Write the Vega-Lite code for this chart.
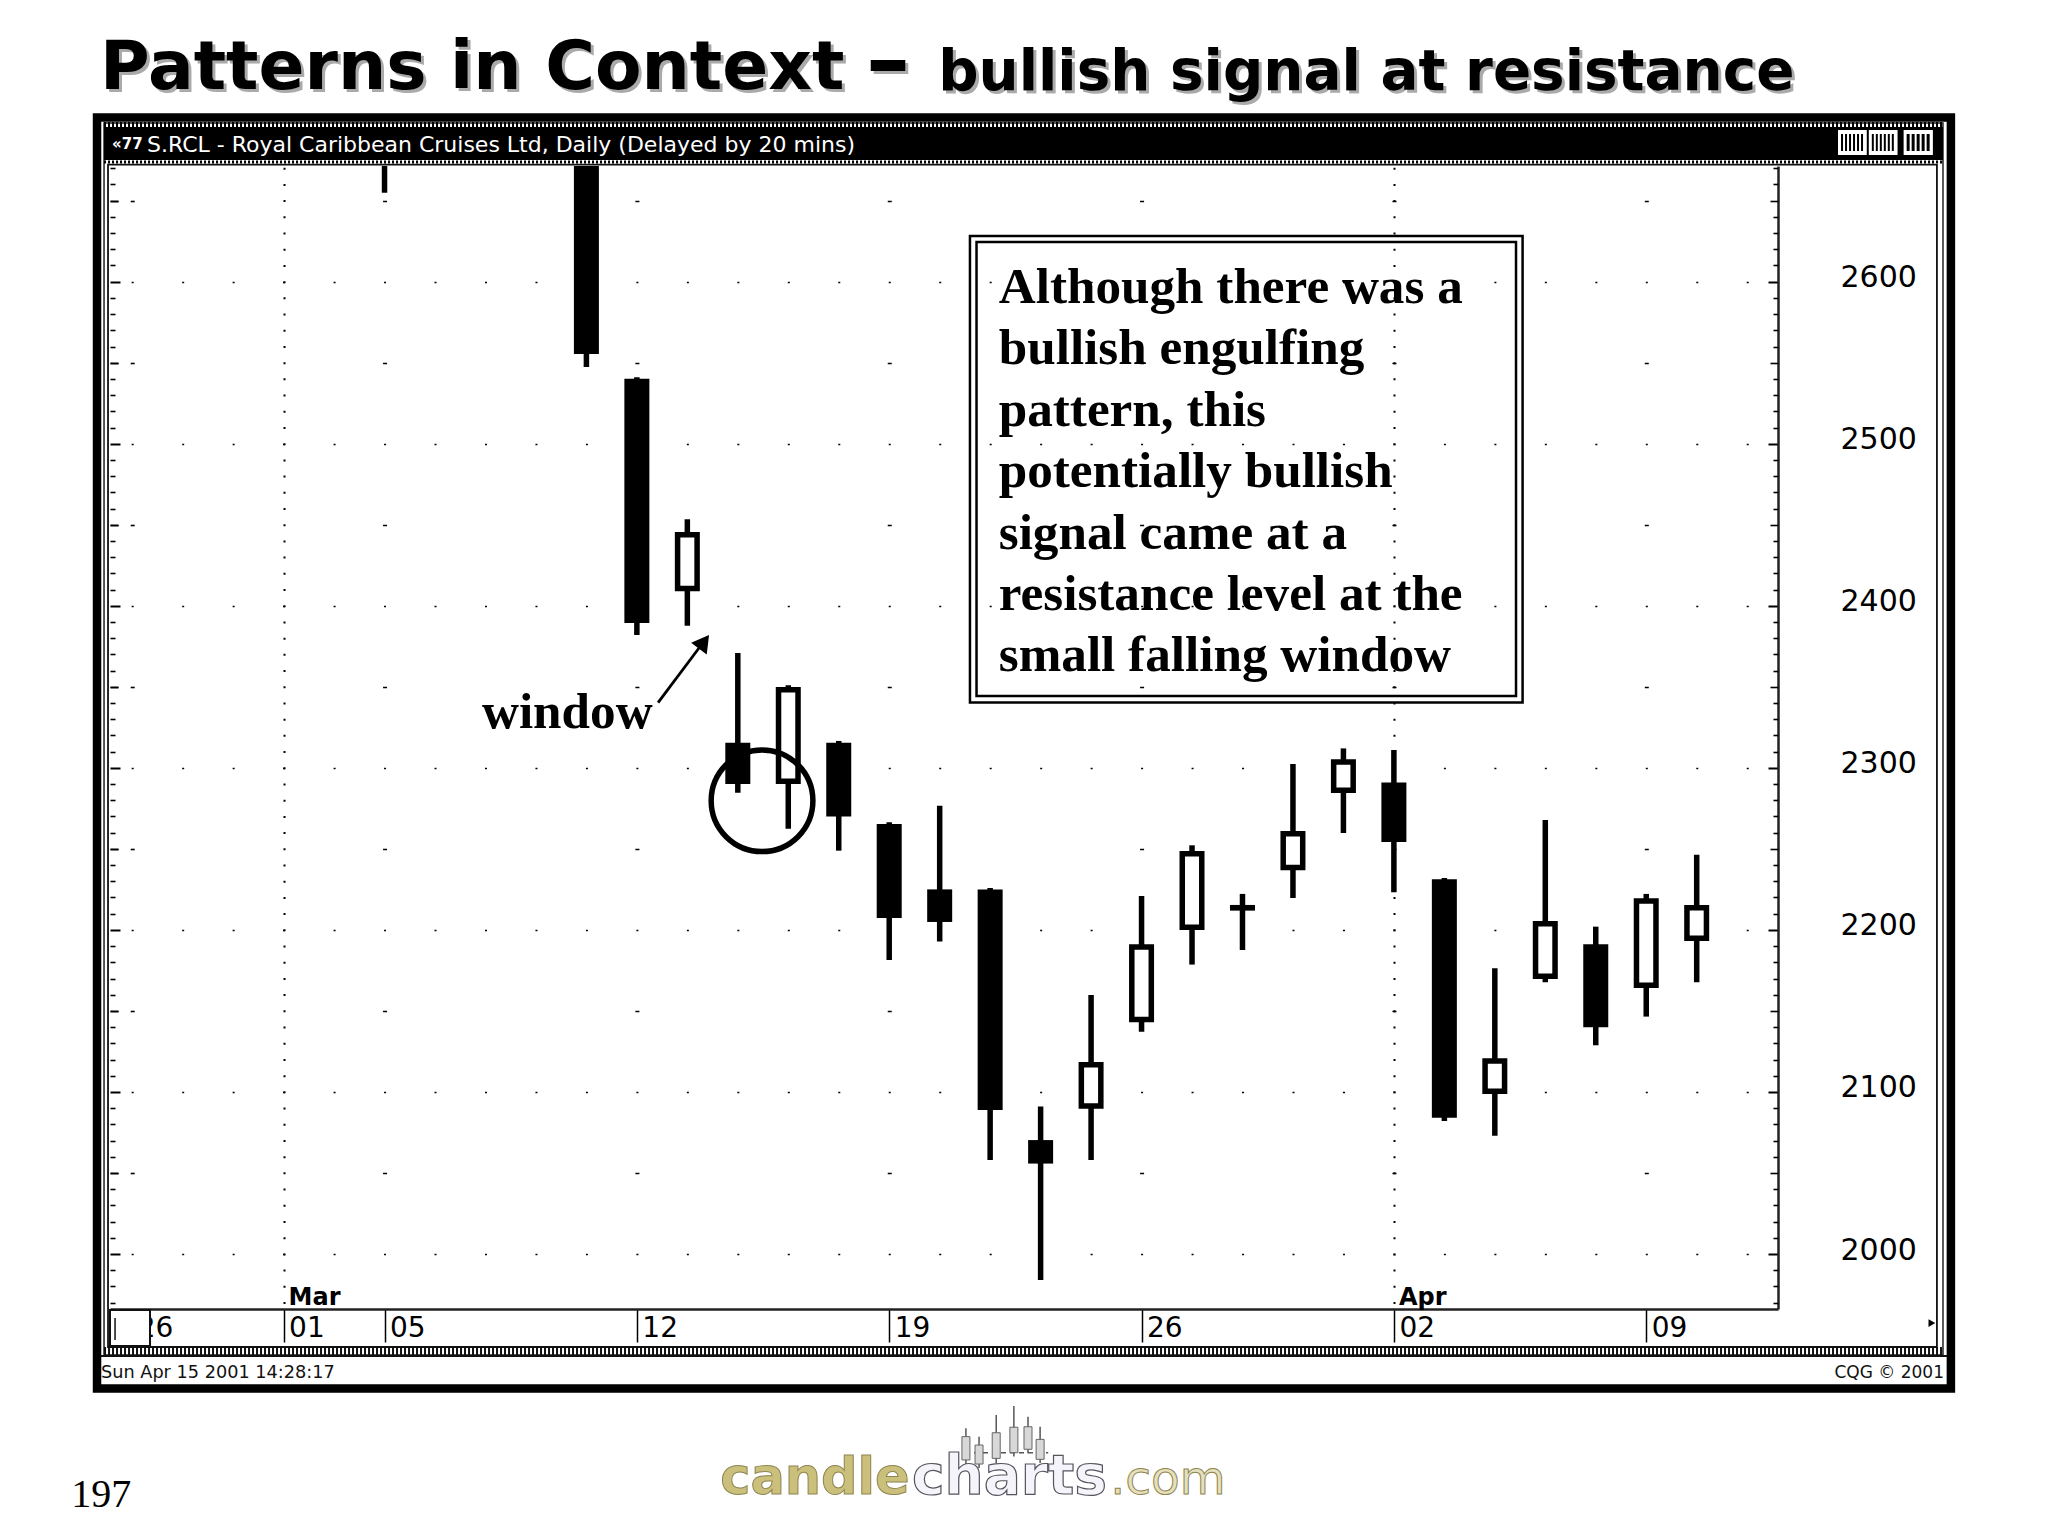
{
"$schema":"https://vega.github.io/schema/vega-lite/v6.json",
"width":1668,"height":1143,
"autosize":{"type":"none"},
"padding":{"left":110,"top":166,"right":270,"bottom":227},
"background":"white",
"config":{"view":{"stroke":null},"axis":{"disable":true,"title":null,"labelFont":"DejaVu Sans","labelColor":"black","labelOverlap":false,"labelBound":false,"labelFlush":false},"text":{"align":"left","baseline":"alphabetic"}},
"resolve":{"axis":{"x":"independent","y":"independent"}},
"datasets":{
"candles":[
{"session":2,"date":"Mar 05","open":2690,"high":2700,"low":2654.9,"close":2680},
{"session":6,"date":"Mar 09","open":2700,"high":2710,"low":2547.4,"close":2555.4},
{"session":7,"date":"Mar 12","open":2540.1,"high":2541,"low":2382,"close":2389.4},
{"session":8,"date":"Mar 13","open":2410.7,"high":2453.4,"low":2387.7,"close":2443.8},
{"session":9,"date":"Mar 14","open":2315.5,"high":2370.9,"low":2284.6,"close":2290},
{"session":10,"date":"Mar 15","open":2291.7,"high":2351,"low":2262.4,"close":2348.2},
{"session":11,"date":"Mar 16","open":2315.5,"high":2316.6,"low":2248.9,"close":2270},
{"session":12,"date":"Mar 19","open":2265.3,"high":2266.4,"low":2181.5,"close":2207.3},
{"session":13,"date":"Mar 20","open":2225,"high":2276.6,"low":2192.8,"close":2204.9},
{"session":14,"date":"Mar 21","open":2225,"high":2225.8,"low":2058,"close":2088.8},
{"session":15,"date":"Mar 22","open":2070.3,"high":2091,"low":1984,"close":2055.8},
{"session":16,"date":"Mar 23","open":2091.4,"high":2159.8,"low":2058,"close":2116.8},
{"session":17,"date":"Mar 26","open":2144.7,"high":2220.9,"low":2137.2,"close":2189.4},
{"session":18,"date":"Mar 27","open":2201.7,"high":2252.2,"low":2178.6,"close":2247},
{"session":19,"date":"Mar 28","open":2215.4,"high":2222.2,"low":2187.6,"close":2211.9},
{"session":20,"date":"Mar 29","open":2238.5,"high":2302.4,"low":2219.7,"close":2259.3},
{"session":21,"date":"Mar 30","open":2286.2,"high":2312,"low":2259.8,"close":2303.6},
{"session":22,"date":"Apr 02","open":2290.9,"high":2311,"low":2223.2,"close":2254.3},
{"session":23,"date":"Apr 03","open":2231.2,"high":2232,"low":2082,"close":2084.1},
{"session":24,"date":"Apr 04","open":2100.4,"high":2176.3,"low":2073,"close":2119.1},
{"session":25,"date":"Apr 05","open":2171.4,"high":2267.8,"low":2167.7,"close":2203.8},
{"session":26,"date":"Apr 06","open":2191.1,"high":2202,"low":2128.8,"close":2139.9},
{"session":27,"date":"Apr 09","open":2165.9,"high":2222.2,"low":2146.5,"close":2217.8},
{"session":28,"date":"Apr 10","open":2194.9,"high":2246.4,"low":2167.7,"close":2213.7}
],
"logo":[
{"session":13.52,"top":1892.4,"bottom":1870,"b1":1887.3,"b0":1872.9},
{"session":13.78,"top":1887.3,"bottom":1868,"b1":1882.1,"b0":1870.4},
{"session":14.12,"top":1900.6,"bottom":1871,"b1":1889.7,"b0":1873.9},
{"session":14.47,"top":1906.2,"bottom":1875,"b1":1893.1,"b0":1877.4},
{"session":14.75,"top":1899.6,"bottom":1877,"b1":1893.4,"b0":1879.5},
{"session":14.99,"top":1893.4,"bottom":1871,"b1":1885.6,"b0":1873.3}
],
"months":[{"session":0,"month":"Mar"},{"session":22,"month":"Apr"}]
},
"data":{"values":[{"k":1}]},
"layer":[
{"mark":{"type":"rect","fill":null,"stroke":"black","strokeWidth":8.5},
 "encoding":{"x":{"datum":-3.697,"type":"quantitative","scale":{"domain":[-3.4398,29.611],"nice":false,"zero":false,"padding":0}},"x2":{"datum":33.037},"y":{"datum":2701.3,"type":"quantitative","scale":{"domain":[1966.06,2671.4],"nice":false,"zero":false,"padding":0}},"y2":{"datum":1917}}},
{"mark":{"type":"rect","fill":null,"stroke":"#222","strokeWidth":1.5},"encoding":{"x":{"datum":-3.558,"type":"quantitative"},"x2":{"datum":32.88},"y":{"datum":2697.9,"type":"quantitative"},"y2":{"datum":1937.7}}},
{"mark":{"type":"rect","fill":null,"stroke":"#111","strokeWidth":1.8},"encoding":{"x":{"datum":-3.479,"type":"quantitative"},"x2":{"datum":32.76},"y":{"datum":2672.3,"type":"quantitative"},"y2":{"datum":1942.6}}},
{"mark":{"type":"rule","stroke":"black","strokeWidth":5,"strokeDash":[2,2]},"encoding":{"x":{"datum":-3.558,"type":"quantitative"},"x2":{"datum":32.88},"y":{"datum":2697,"type":"quantitative"}}},
{"mark":{"type":"rect","fill":"black"},"encoding":{"x":{"datum":-3.558,"type":"quantitative"},"x2":{"datum":32.88},"y":{"datum":2695.5,"type":"quantitative"},"y2":{"datum":2675.1}}},
{"mark":{"type":"rule","stroke":"black","strokeWidth":3,"strokeDash":[2,2]},"encoding":{"x":{"datum":-3.558,"type":"quantitative"},"x2":{"datum":32.88},"y":{"datum":2673.9,"type":"quantitative"}}},
{"mark":{"type":"rule","stroke":"#111","strokeWidth":8,"strokeDash":[2,2]},"encoding":{"x":{"datum":-3.558,"type":"quantitative"},"x2":{"datum":32.88},"y":{"datum":1940.1,"type":"quantitative"}}},
{"mark":{"type":"rule","stroke":"#111","strokeWidth":2},"encoding":{"x":{"datum":-3.638,"type":"quantitative"},"x2":{"datum":32.96},"y":{"datum":1937.1,"type":"quantitative"}}},
{"mark":{"type":"rect","fill":"white"},"encoding":{"x":{"datum":30.8,"type":"quantitative"},"x2":{"datum":31.37},"y":{"datum":2693.6,"type":"quantitative"},"y2":{"datum":2678.2}}},
{"mark":{"type":"rect","fill":"white"},"encoding":{"x":{"datum":31.41,"type":"quantitative"},"x2":{"datum":31.98},"y":{"datum":2693.6,"type":"quantitative"},"y2":{"datum":2678.2}}},
{"mark":{"type":"rect","fill":"white"},"encoding":{"x":{"datum":32.1,"type":"quantitative"},"x2":{"datum":32.68},"y":{"datum":2693.6,"type":"quantitative"},"y2":{"datum":2678.2}}},
{"mark":{"type":"rule","stroke":"black","strokeWidth":17,"strokeDash":[2,2]},"encoding":{"x":{"datum":30.86,"type":"quantitative"},"x2":{"datum":31.31},"y":{"datum":2685.9,"type":"quantitative"}}},
{"mark":{"type":"rule","stroke":"black","strokeWidth":17,"strokeDash":[2,2]},"encoding":{"x":{"datum":31.47,"type":"quantitative"},"x2":{"datum":31.92},"y":{"datum":2685.9,"type":"quantitative"}}},
{"mark":{"type":"rule","stroke":"black","strokeWidth":17,"strokeDash":[3,2]},"encoding":{"x":{"datum":32.16,"type":"quantitative"},"x2":{"datum":32.62},"y":{"datum":2685.9,"type":"quantitative"}}},
{"mark":{"type":"text","text":"S.RCL - Royal Caribbean Cruises Ltd, Daily (Delayed by 20 mins)","font":"DejaVu Sans","fontSize":22,"fill":"white"},"encoding":{"x":{"datum":-2.707,"type":"quantitative"},"y":{"datum":2680,"type":"quantitative"}}},
{"mark":{"type":"text","text":"«77","font":"DejaVu Sans","fontSize":15,"fontWeight":"bold","fill":"white"},"encoding":{"x":{"datum":-3.4,"type":"quantitative"},"y":{"datum":2682,"type":"quantitative"}}},
{"mark":{"type":"text","text":"Sun Apr 15 2001 14:28:17","font":"DejaVu Sans","fontSize":17.7,"fill":"#111"},"encoding":{"x":{"datum":-3.618,"type":"quantitative"},"y":{"datum":1923.5,"type":"quantitative"}}},
{"mark":{"type":"text","text":"CQG © 2001","font":"DejaVu Sans","fontSize":17,"fill":"#111","align":"right"},"encoding":{"x":{"datum":32.9,"type":"quantitative"},"y":{"datum":1923.5,"type":"quantitative"}}},
{"mark":{"type":"text","text":"197","font":"Liberation Serif","fontSize":40,"fill":"black"},"encoding":{"x":{"datum":-4.21,"type":"quantitative"},"y":{"datum":1844.1,"type":"quantitative"}}},
{"mark":{"type":"text","text":"Patterns in Context","font":"DejaVu Sans","fontWeight":"bold","fontSize":67.8,"fill":"#aaaaaa","dx":3,"dy":3},"encoding":{"x":{"datum":-3.637,"type":"quantitative"},"y":{"datum":2718.9,"type":"quantitative"}}},
{"mark":{"type":"text","text":"Patterns in Context","font":"DejaVu Sans","fontWeight":"bold","fontSize":67.8,"fill":"black"},"encoding":{"x":{"datum":-3.637,"type":"quantitative"},"y":{"datum":2718.9,"type":"quantitative"}}},
{"mark":{"type":"text","text":"–","font":"DejaVu Sans","fontWeight":"bold","fontSize":88,"fill":"#aaaaaa","dx":3,"dy":3},"encoding":{"x":{"datum":11.54,"type":"quantitative"},"y":{"datum":2718.9,"type":"quantitative"}}},
{"mark":{"type":"text","text":"–","font":"DejaVu Sans","fontWeight":"bold","fontSize":88,"fill":"black"},"encoding":{"x":{"datum":11.54,"type":"quantitative"},"y":{"datum":2718.9,"type":"quantitative"}}},
{"mark":{"type":"text","text":"bullish signal at resistance","font":"DejaVu Sans","fontWeight":"bold","fontSize":56.4,"fill":"#aaaaaa","dx":3,"dy":3},"encoding":{"x":{"datum":12.97,"type":"quantitative"},"y":{"datum":2718.5,"type":"quantitative"}}},
{"mark":{"type":"text","text":"bullish signal at resistance","font":"DejaVu Sans","fontWeight":"bold","fontSize":56.4,"fill":"black"},"encoding":{"x":{"datum":12.97,"type":"quantitative"},"y":{"datum":2718.5,"type":"quantitative"}}},
{"data":{"name":"candles"},"mark":{"type":"rule","stroke":"black","strokeWidth":5.5,"clip":true},
 "encoding":{"x":{"field":"session","type":"quantitative","axis":{"disable":false,"values":[-3,0,2,7,12,17,22,27],"labelExpr":"{'-3':'26','0':'01','2':'05','7':'12','12':'19','17':'26','22':'02','27':'09'}[datum.value]","labelAlign":"left","labelBaseline":"top","labelFontSize":28,"labelOffset":5,"tickSize":33,"labelPadding":-28,"tickColor":"black","tickWidth":1.5,"domain":true,"domainColor":"#222","domainWidth":2.5,"grid":false}},
 "y":{"field":"high","type":"quantitative","axis":{"disable":false,"orient":"right","values":[2000,2100,2200,2300,2400,2500,2600],"format":"d","tickSize":-10,"tickWidth":2,"tickColor":"black","labelFontSize":30,"labelPadding":72,"labelOffset":-4,"domain":true,"domainColor":"#222","domainWidth":2.5,"grid":false}},"y2":{"field":"low"}}},
{"data":{"name":"candles"},"transform":[{"filter":"datum.close<datum.open"}],"mark":{"type":"bar","fill":"black","size":25,"clip":true},
 "encoding":{"x":{"field":"session","type":"quantitative","axis":{"disable":false,"values":[0,22],"labels":false,"ticks":false,"domain":false,"grid":true,"gridColor":"black","gridWidth":2,"gridOpacity":1,"gridDash":[2,14.204],"gridDashOffset":10.7}},
 "y":{"field":"open","type":"quantitative","axis":{"disable":false,"orient":"left","values":[2000,2100,2200,2300,2400,2500,2600],"tickSize":-10,"tickWidth":2,"tickColor":"black","labels":false,"domain":false,"grid":true,"gridColor":"black","gridWidth":1.6,"gridOpacity":1,"gridDash":[2,48.47],"gridDashOffset":29.27}},"y2":{"field":"close"}}},
{"data":{"name":"candles"},"transform":[{"filter":"datum.close>datum.open"}],"mark":{"type":"bar","fill":"white","stroke":"black","strokeWidth":5.5,"size":19.5,"clip":true},
 "encoding":{"x":{"field":"session","type":"quantitative"},
 "y":{"field":"open","type":"quantitative","axis":{"disable":false,"orient":"left","values":[1950,2050,2150,2250,2350,2450,2550,2650],"tickSize":-8,"tickWidth":1.6,"tickColor":"black","labels":false,"domain":false,"grid":true,"gridColor":"black","gridWidth":1.6,"gridOpacity":1,"gridDash":[4,248.35],"gridDashOffset":232.15}},"y2":{"field":"close"}}},
{"mark":{"type":"rect","fill":null,"stroke":"black","strokeWidth":2.5},
 "encoding":{"x":{"datum":13.6,"type":"quantitative"},"x2":{"datum":24.55},"y":{"datum":2628.2,"type":"quantitative","axis":{"disable":false,"orient":"right","values":[2050,2150,2250,2350,2450,2550,2650],"tickSize":-8,"tickWidth":1.6,"tickColor":"black","labels":false,"domain":false,"grid":false}},"y2":{"datum":2340.3}}},
{"mark":{"type":"rect","fill":null,"stroke":"black","strokeWidth":2.5},
 "encoding":{"x":{"datum":13.73,"type":"quantitative"},"x2":{"datum":24.42},"y":{"datum":2624.5,"type":"quantitative","axis":{"disable":false,"orient":"right","values":[1970,1980,1990,2010,2020,2030,2040,2060,2070,2080,2090,2110,2120,2130,2140,2160,2170,2180,2190,2210,2220,2230,2240,2260,2270,2280,2290,2310,2320,2330,2340,2360,2370,2380,2390,2410,2420,2430,2440,2460,2470,2480,2490,2510,2520,2530,2540,2560,2570,2580,2590,2610,2620,2630,2640,2660,2670],"tickSize":-5,"tickWidth":1.6,"tickColor":"black","labels":false,"domain":false,"grid":false}},"y2":{"datum":2344.3}}},
{"mark":{"type":"text","text":["Although there was a","bullish engulfing","pattern, this","potentially bullish","signal came at a","resistance level at the","small falling window"],"lineHeight":61.4,"font":"Liberation Serif","fontWeight":"bold","fontSize":51.2,"fill":"black"},
 "encoding":{"x":{"datum":14.17,"type":"quantitative"},"y":{"datum":2586.9,"type":"quantitative","axis":{"disable":false,"orient":"left","values":[2050,2150,2250,2350,2450,2550,2650],"tickSize":-8,"tickWidth":1.6,"tickColor":"black","labels":false,"domain":false,"grid":false}}}},
{"mark":{"type":"text","text":"window","font":"Liberation Serif","fontWeight":"bold","fontSize":51.2,"fill":"black"},
 "encoding":{"x":{"datum":3.93,"type":"quantitative"},"y":{"datum":2324.6,"type":"quantitative","axis":{"disable":false,"orient":"left","values":[1970,1980,1990,2010,2020,2030,2040,2060,2070,2080,2090,2110,2120,2130,2140,2160,2170,2180,2190,2210,2220,2230,2240,2260,2270,2280,2290,2310,2320,2330,2340,2360,2370,2380,2390,2410,2420,2430,2440,2460,2470,2480,2490,2510,2520,2530,2540,2560,2570,2580,2590,2610,2620,2630,2640,2660,2670],"tickSize":-5,"tickWidth":1.6,"tickColor":"black","labels":false,"domain":false,"grid":false}}}},
{"mark":{"type":"rule","stroke":"black","strokeWidth":2.8},"encoding":{"x":{"datum":7.42,"type":"quantitative"},"x2":{"datum":8.35},"y":{"datum":2340.2,"type":"quantitative"},"y2":{"datum":2378.9}}},
{"mark":{"type":"point","shape":"triangle-up","filled":true,"fill":"black","size":380,"angle":37,"opacity":1},"encoding":{"x":{"datum":8.33,"type":"quantitative"},"y":{"datum":2377.8,"type":"quantitative"}}},
{"mark":{"type":"point","shape":"circle","filled":false,"stroke":"black","strokeWidth":5.5,"size":10343,"opacity":1},"encoding":{"x":{"datum":9.48,"type":"quantitative"},"y":{"datum":2279.7,"type":"quantitative"}}},
{"data":{"name":"months"},"mark":{"type":"text","font":"DejaVu Sans","fontWeight":"bold","fontSize":24,"fill":"black","dx":5},"encoding":{"x":{"field":"session","type":"quantitative"},"y":{"datum":1968.5,"type":"quantitative"},"text":{"field":"month"}}},
{"mark":{"type":"rect","fill":"white","stroke":"#111","strokeWidth":2},"encoding":{"x":{"datum":-3.44,"type":"quantitative"},"x2":{"datum":-2.647},"y":{"datum":1965.4,"type":"quantitative"},"y2":{"datum":1943.2}}},
{"mark":{"type":"rule","stroke":"#111","strokeWidth":1.5},"encoding":{"x":{"datum":-3.34,"type":"quantitative"},"y":{"datum":1960.5,"type":"quantitative"},"y2":{"datum":1946.9}}},
{"mark":{"type":"point","shape":"triangle-right","filled":true,"fill":"black","size":60,"opacity":1},"encoding":{"x":{"datum":32.66,"type":"quantitative"},"y":{"datum":1957.4,"type":"quantitative"}}},
{"mark":{"type":"rule","stroke":"#555","strokeWidth":1.5,"strokeDash":[5,4]},"encoding":{"x":{"datum":13.68,"type":"quantitative"},"x2":{"datum":15.15},"y":{"datum":1877.4,"type":"quantitative"}}},
{"data":{"name":"logo"},"mark":{"type":"rule","stroke":"#555","strokeWidth":1.5},"encoding":{"x":{"field":"session","type":"quantitative"},"y":{"field":"top","type":"quantitative"},"y2":{"field":"bottom"}}},
{"data":{"name":"logo"},"mark":{"type":"bar","fill":"#d8d8d8","stroke":"#666","strokeWidth":1,"size":8},"encoding":{"x":{"field":"session","type":"quantitative"},"y":{"field":"b1","type":"quantitative"},"y2":{"field":"b0"}}},
{"mark":{"type":"text","text":"candle","font":"DejaVu Sans","fontWeight":"bold","fontSize":51,"fill":"#cbbf7c","stroke":"#8f8550","strokeWidth":1},"encoding":{"x":{"datum":8.65,"type":"quantitative"},"y":{"datum":1851.9,"type":"quantitative"}}},
{"mark":{"type":"text","text":"charts","font":"DejaVu Sans","fontWeight":"bold","fontSize":55,"fill":"#f4f4fa","stroke":"#55555f","strokeWidth":1.2},"encoding":{"x":{"datum":12.45,"type":"quantitative"},"y":{"datum":1851.9,"type":"quantitative"}}},
{"mark":{"type":"text","text":".com","font":"DejaVu Sans","fontSize":47,"fill":"#e6e0bc","stroke":"#8f8550","strokeWidth":1},"encoding":{"x":{"datum":16.38,"type":"quantitative"},"y":{"datum":1851.9,"type":"quantitative"}}}
]
}
